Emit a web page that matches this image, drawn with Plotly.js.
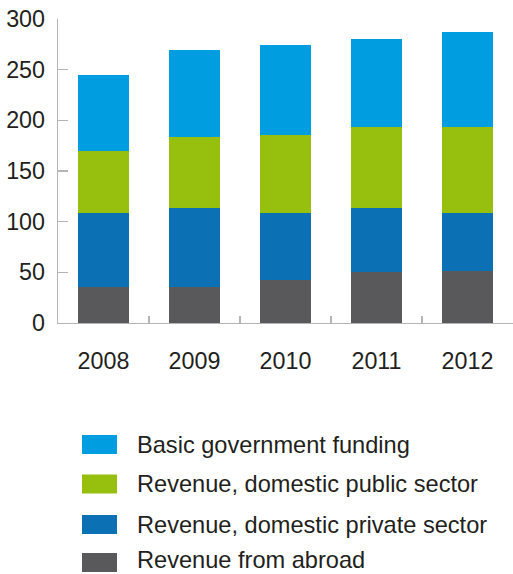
<!DOCTYPE html>
<html>
<head>
<meta charset="utf-8">
<script src="https://cdn.plot.ly/plotly-3.0.1.min.js"></script>
<style>html,body{margin:0;padding:0;background:#fff;}#chart{width:513px;height:574px;}</style>
</head>
<body>
<div id="chart"></div>
<script>
var years = ['2008', '2009', '2010', '2011', '2012'];
var abroad = [36, 36, 42, 50, 51];
var privateSector = [73, 77, 67, 63, 58];
var publicSector = [61, 70.5, 76.5, 80, 84];
var basicFunding = [75, 86, 88.5, 87, 94];
var seriesNames = ['Basic government funding', 'Revenue, domestic public sector', 'Revenue, domestic private sector', 'Revenue from abroad'];
var seriesColors = ['#009EE0', '#97C00E', '#0B71B4', '#59595B'];
var yTicks = [0, 50, 100, 150, 200, 250, 300];

var W = 513, H = 574, L = 58, R = 0, T = 19, B = 251;
var pw = W - L - R, ph = H - T - B;
function px(x) { return (x - L) / pw; }
function py(y) { return (H - B - y) / ph; }

var font = 'Liberation Sans, Arial, Helvetica, sans-serif';
var txtColor = '#231f20';

var stackOrder = [abroad, privateSector, publicSector, basicFunding];
var stackIdx = [3, 2, 1, 0];
var traces = stackOrder.map(function (vals, i) {
  var k = stackIdx[i];
  return {
    type: 'bar', x: years, y: vals, name: seriesNames[k],
    marker: { color: seriesColors[k], line: { width: 0 } },
    showlegend: false, hoverinfo: 'x+y+name'
  };
});

var shapes = [], annotations = [];
var legendY = [444.5, 484, 524.5, 562.5];
var legendTextY = [444.5, 484, 524.5, 560];
seriesNames.forEach(function (n, i) {
  var cy = legendY[i];
  shapes.push({ type: 'rect', xref: 'paper', yref: 'paper', x0: px(82), x1: px(117), y0: py(cy + 9.5), y1: py(cy - 9.5), fillcolor: seriesColors[i], line: { width: 0 } });
  annotations.push({ xref: 'paper', yref: 'paper', x: px(135), y: py(legendTextY[i]), xanchor: 'left', yanchor: 'middle', text: n, showarrow: false, font: { family: font, size: 23.6, color: txtColor } });
});

var layout = {
  width: W, height: H,
  margin: { l: L, r: R, t: T, b: B, pad: 0 },
  paper_bgcolor: '#fff', plot_bgcolor: '#fff',
  barmode: 'stack', bargap: 0.45,
  font: { family: font, size: 23, color: txtColor },
  xaxis: {
    type: 'category', range: [-0.5, 4.5], tickson: 'boundaries',
    ticks: 'inside', ticklen: 7, tickcolor: '#b5b5b5', tickwidth: 1.3,
    showline: true, linecolor: '#b5b5b5', linewidth: 1.3,
    showgrid: false, zeroline: false, ticklabelstandoff: 17,
    tickfont: { family: font, size: 23.3, color: txtColor }
  },
  yaxis: {
    range: [0, 300], tickvals: yTicks, ticktext: yTicks.map(String),
    ticks: 'inside', ticklen: 10, tickcolor: '#b5b5b5', tickwidth: 1.3,
    showline: true, linecolor: '#b5b5b5', linewidth: 1.3,
    showgrid: false, zeroline: false, ticklabelstandoff: 7,
    tickfont: { family: font, size: 23.3, color: txtColor }
  },
  shapes: shapes, annotations: annotations
};

Plotly.newPlot('chart', traces, layout, { displayModeBar: false, staticPlot: true });
</script>
</body>
</html>
